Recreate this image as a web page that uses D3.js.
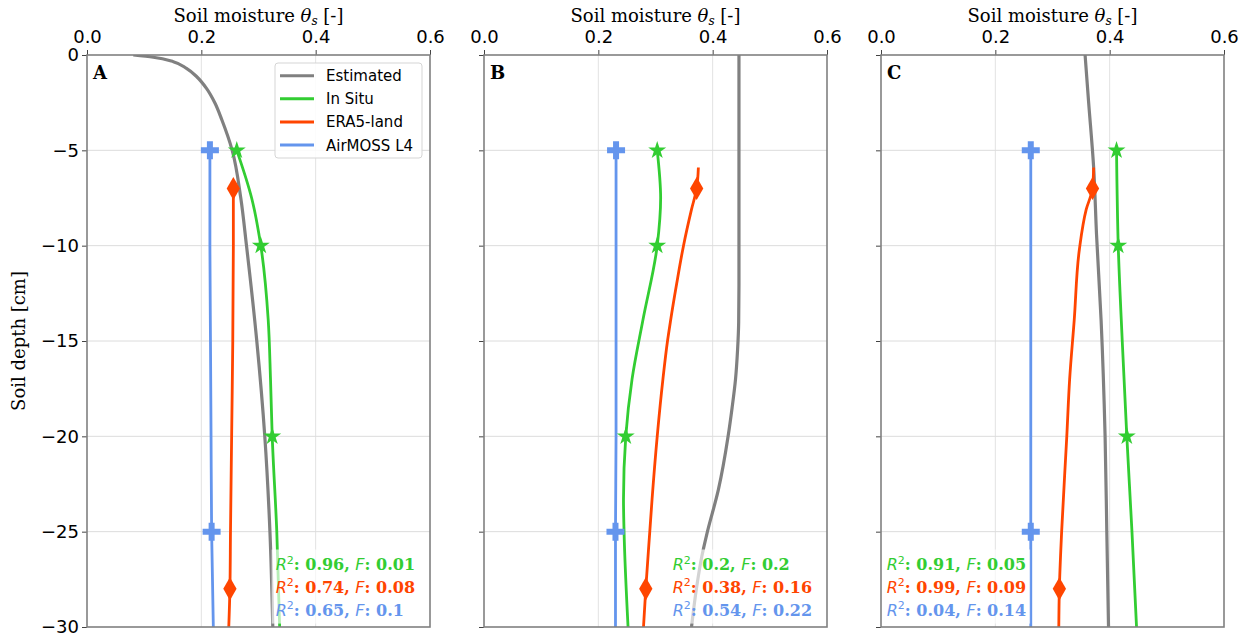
<!DOCTYPE html>
<html>
<head>
<meta charset="utf-8">
<script src="https://cdn.jsdelivr.net/npm/d3@7"></script>
<style>
  body { margin: 0; background: #fff; }
  svg text { fill: #000; }
</style>
</head>
<body>
<svg id="chart"></svg>
<script>
// soil moisture profiles, [depth cm, theta]
const estimatedA = [[0, 0.081], [-0.12, 0.116], [-0.35, 0.151], [-0.7, 0.174], [-1.14, 0.192], [-1.75, 0.209], [-2.53, 0.224], [-3.41, 0.236], [-5, 0.254], [-7.5, 0.269], [-10, 0.279], [-15, 0.297], [-20, 0.311], [-25, 0.320], [-30, 0.325]]
const inSituA = [[-5, 0.262], [-7.5, 0.288], [-10, 0.304], [-13.9, 0.317], [-17, 0.321], [-20, 0.324], [-25, 0.332], [-30, 0.337]]
const era5A = [[-6.8, 0.256], [-7, 0.256], [-10, 0.256], [-15, 0.255], [-20, 0.253], [-25, 0.251], [-28, 0.250], [-30, 0.248]]
const airmossA = [[-5, 0.215], [-10, 0.215], [-15, 0.216], [-20, 0.217], [-25, 0.218], [-30, 0.221]]

const estimatedB = [[0, 0.446], [-5, 0.446], [-10, 0.446], [-12, 0.446], [-14, 0.4455], [-15.5, 0.4435], [-17, 0.440], [-18.5, 0.434], [-20, 0.427], [-22.8, 0.410], [-25.1, 0.390], [-26.3, 0.381], [-27.9, 0.372], [-30, 0.363]]
const inSituB = [[-5, 0.303], [-7.5, 0.309], [-10, 0.303], [-13.9, 0.278], [-17, 0.259], [-20, 0.248], [-23.3, 0.244], [-25, 0.245], [-30, 0.252]]
const era5B = [[-5.9, 0.375], [-7, 0.372], [-8.1, 0.363], [-10, 0.349], [-12, 0.337], [-14, 0.326], [-15, 0.321], [-17, 0.313], [-20, 0.303], [-23.3, 0.294], [-25, 0.290], [-28, 0.283], [-30, 0.279]]
const airmossB = [[-5, 0.231], [-10, 0.231], [-15, 0.231], [-20, 0.231], [-25, 0.230], [-30, 0.230]]

const estimatedC = [[0, 0.357], [-2.4, 0.363], [-5.9, 0.372], [-9.4, 0.377], [-13.9, 0.385], [-20, 0.392], [-25, 0.395], [-30, 0.398]]
const inSituC = [[-5, 0.412], [-10, 0.415], [-15, 0.422], [-20, 0.430], [-25, 0.439], [-30, 0.447]]
const era5C = [[-5.9, 0.372], [-7, 0.370], [-8.1, 0.359], [-10.2, 0.347], [-13.9, 0.338], [-17, 0.330], [-20, 0.325], [-25, 0.316], [-28, 0.312], [-30, 0.311]]
const airmossC = [[-5, 0.262], [-10, 0.262], [-15, 0.262], [-20, 0.262], [-25, 0.262], [-30, 0.262]]

// depths where the observations sit (markers)
const inSituDepths = [-5, -10, -20]
const era5Depths = [-7, -28]
const airmossDepths = [-5, -25]

// fit statistics per panel, order: In Situ, ERA5-land, AirMOSS L4
const r2A = [0.96, 0.74, 0.65], fA = [0.01, 0.08, 0.1]
const r2B = [0.2, 0.38, 0.54], fB = [0.2, 0.16, 0.22]
const r2C = [0.91, 0.99, 0.04], fC = [0.05, 0.09, 0.14]
const statsX = [0.33, 0.33, 0.01]

const panelLabels = ["A", "B", "C"]
const seriesNames = ["Estimated", "In Situ", "ERA5-land", "AirMOSS L4"]
const seriesColors = ["#808080", "#32cd32", "#ff4500", "#6495ed"]
const xTicks = [0, 0.2, 0.4, 0.6]
const yTicks = [0, -5, -10, -15, -20, -25, -30]

const W = 1257, H = 639
const lefts = [87, 484, 881]
const pw = 343, plotTop = 55, plotBottom = 627

const panels = [
  { est: estimatedA, ins: inSituA, era: era5A, air: airmossA, r2: r2A, f: fA },
  { est: estimatedB, ins: inSituB, era: era5B, air: airmossB, r2: r2B, f: fB },
  { est: estimatedC, ins: inSituC, era: era5C, air: airmossC, r2: r2C, f: fC }
]

const svg = d3.select("#chart").attr("width", W).attr("height", H)
const y = d3.scaleLinear().domain([0, -30]).range([plotTop, plotBottom])
const serif = "'DejaVu Serif', serif"
const sans = "'DejaVu Sans', sans-serif"
const fmtMinus = d => d3.format("d")(d).replace("-", "\u2212")

panels.forEach((p, i) => {
  const x = d3.scaleLinear().domain([0, 0.6]).range([lefts[i], lefts[i] + pw])
  const g = svg.append("g")

  g.append("clipPath").attr("id", "clip" + i)
    .append("rect").attr("x", lefts[i]).attr("y", plotTop).attr("width", pw).attr("height", plotBottom - plotTop)

  // grid
  g.selectAll(".vg").data([0.2, 0.4]).enter().append("line")
    .attr("x1", d => x(d)).attr("x2", d => x(d)).attr("y1", plotTop).attr("y2", plotBottom)
    .attr("stroke", "#e2e2e2").attr("stroke-width", 1)
  g.selectAll(".hg").data([-5, -10, -15, -20, -25]).enter().append("line")
    .attr("x1", lefts[i]).attr("x2", lefts[i] + pw).attr("y1", d => y(d)).attr("y2", d => y(d))
    .attr("stroke", "#dcdcdc").attr("stroke-width", 1)

  // axes
  const xAxis = d3.axisTop(x).tickValues(xTicks).tickFormat(d3.format(".1f")).tickSizeOuter(0).tickSize(5)
  const ga = g.append("g").attr("transform", `translate(0,${plotTop})`).call(xAxis)
  ga.select(".domain").remove()
  ga.selectAll("line").attr("stroke", "#444")
  ga.selectAll("text").attr("font-family", sans).attr("font-size", 18).attr("dy", "-0.2em")

  const yAxis = d3.axisLeft(y).tickValues(yTicks).tickFormat(i === 0 ? fmtMinus : "").tickSizeOuter(0).tickSize(5)
  const gy = g.append("g").attr("transform", `translate(${lefts[i]},0)`).call(yAxis)
  gy.select(".domain").remove()
  gy.selectAll("line").attr("stroke", "#444")
  gy.selectAll("text").attr("font-family", sans).attr("font-size", 18)

  // title
  const t = g.append("text").attr("x", lefts[i] + pw / 2).attr("y", 22)
    .attr("text-anchor", "middle").attr("font-family", serif).attr("font-size", 18)
  t.append("tspan").text("Soil moisture ")
  t.append("tspan").attr("font-style", "italic").text("\u03b8")
  t.append("tspan").attr("font-style", "italic").attr("font-size", 12).attr("dy", 3).text("s")
  t.append("tspan").attr("dy", -3).text(" [-]")

  // lines
  const line = d3.line().x(d => x(d[1])).y(d => y(d[0])).curve(d3.curveMonotoneY)
  const plot = g.append("g").attr("clip-path", `url(#clip${i})`)
  const series = [p.est, p.ins, p.era, p.air]
  series.forEach((s, k) => {
    plot.append("path").datum(s).attr("d", line).attr("fill", "none")
      .attr("stroke", seriesColors[k]).attr("stroke-width", k === 0 ? 3.2 : 2.8)
  })

  // markers
  const mk = (data, depths, type, size, color) => {
    plot.selectAll(null).data(data.filter(d => depths.includes(d[0]))).enter().append("path")
      .attr("d", d3.symbol().type(type).size(size))
      .attr("transform", d => `translate(${x(d[1])},${y(d[0])})`)
      .attr("fill", color)
  }
  mk(p.ins, inSituDepths, d3.symbolStar, 100, seriesColors[1])
  mk(p.era, era5Depths, d3.symbolDiamond, 153, seriesColors[2])
  mk(p.air, airmossDepths, d3.symbolCross, 180, seriesColors[3])

  // stats text with a half transparent box
  const box = plot.append("rect").attr("fill", "#fff").attr("opacity", 0.65)
  const tg = plot.append("g")
  const names = [1, 2, 3]
  names.forEach((k, j) => {
    const tx = tg.append("text").attr("x", x(statsX[i])).attr("y", 570 + j * 22.8)
      .attr("font-size", 16).style("fill", seriesColors[k])
    tx.append("tspan").attr("font-family", sans).attr("font-style", "italic").style("fill", seriesColors[k]).text("R")
    tx.append("tspan").attr("font-family", sans).attr("font-size", 11).attr("dy", -6.5).style("fill", seriesColors[k]).text("2")
    tx.append("tspan").attr("font-family", serif).attr("font-weight", "bold").attr("dy", 6.5).style("fill", seriesColors[k]).text(": " + p.r2[j] + ", ")
    tx.append("tspan").attr("font-family", sans).attr("font-style", "italic").style("fill", seriesColors[k]).text("F")
    tx.append("tspan").attr("font-family", serif).attr("font-weight", "bold").style("fill", seriesColors[k]).text(": " + p.f[j])
  })
  const bb = tg.node().getBBox()
  box.attr("x", bb.x - 4).attr("y", bb.y - 4).attr("width", bb.width + 8).attr("height", bb.height + 8)

  // spines
  g.append("rect").attr("x", lefts[i]).attr("y", plotTop).attr("width", pw).attr("height", plotBottom - plotTop)
    .attr("fill", "none").attr("stroke", "#808080").attr("stroke-width", 1.6)

  // panel letter
  g.append("text").attr("x", lefts[i] + 6).attr("y", 78.5).attr("font-family", serif)
    .attr("font-weight", "bold").attr("font-size", 18).text(panelLabels[i])
})

// y label
svg.append("text").attr("transform", `translate(25,${(plotTop + plotBottom) / 2}) rotate(-90)`)
  .attr("text-anchor", "middle").attr("font-family", serif).attr("font-size", 18).text("Soil depth [cm]")

// legend
const lg = svg.append("g")
lg.append("rect").attr("x", 275).attr("y", 63).attr("width", 147).attr("height", 95).attr("rx", 3)
  .attr("fill", "#fff").attr("fill-opacity", 0.85).attr("stroke", "#d5d5d5")
seriesNames.forEach((n, k) => {
  const yy = 75.7 + k * 23.1
  lg.append("line").attr("x1", 280).attr("x2", 314).attr("y1", yy).attr("y2", yy)
    .attr("stroke", seriesColors[k]).attr("stroke-width", 3)
  lg.append("text").attr("x", 326).attr("y", yy + 5.5).attr("font-family", sans).attr("font-size", 15).text(n)
})
</script>
</body>
</html>
